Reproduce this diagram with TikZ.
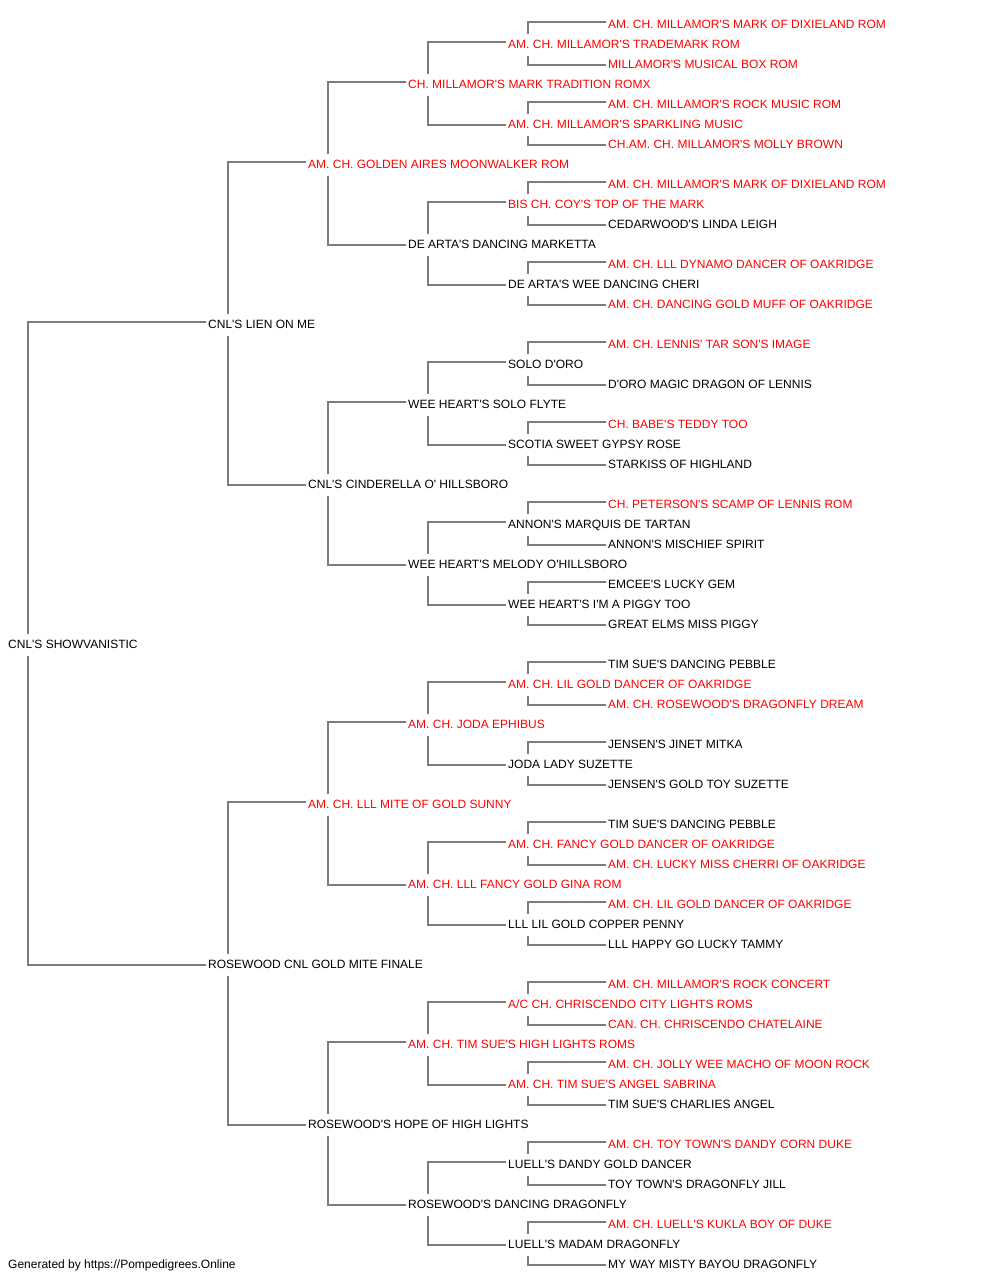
\documentclass[tikz,border=0pt]{standalone}
\usepackage{fontspec}
\setmainfont{Liberation Sans}[Ligatures=TeXOff]
\usetikzlibrary{backgrounds}
\definecolor{linecol}{RGB}{125,125,125}
\definecolor{redtxt}{RGB}{255,0,0}
\tikzset{
  lab/.style={anchor=base west, fill=white, inner xsep=1pt, inner ysep=3.5pt,
    text height=10.5pt, text depth=4.5pt, font=\fontsize{12}{14}\selectfont, text=black},
  rd/.style={lab, text=redtxt},
  bk/.style={lab},
  conn/.style={draw=linecol, line width=1.7pt},
  foot/.style={anchor=base west, inner sep=0pt, font=\fontsize{12}{14}\selectfont, text=black}
}
\begin{document}
\begin{tikzpicture}[x=1pt,y=-1pt]
\useasboundingbox (0,0) rectangle (1000,1280);
% generation 1
\node[bk] (g1-0) at (7,648) {CNL'S SHOWVANISTIC};
% generation 2
\node[bk] (g2-0) at (207,328) {CNL'S LIEN ON ME};
\node[bk] (g2-1) at (207,968) {ROSEWOOD CNL GOLD MITE FINALE};
% generation 3
\node[rd] (g3-0) at (307,168) {AM. CH. GOLDEN AIRES MOONWALKER ROM};
\node[bk] (g3-1) at (307,488) {CNL'S CINDERELLA O' HILLSBORO};
\node[rd] (g3-2) at (307,808) {AM. CH. LLL MITE OF GOLD SUNNY};
\node[bk] (g3-3) at (307,1128) {ROSEWOOD'S HOPE OF HIGH LIGHTS};
% generation 4
\node[rd] (g4-0) at (407,88) {CH. MILLAMOR'S MARK TRADITION ROMX};
\node[bk] (g4-1) at (407,248) {DE ARTA'S DANCING MARKETTA};
\node[bk] (g4-2) at (407,408) {WEE HEART'S SOLO FLYTE};
\node[bk] (g4-3) at (407,568) {WEE HEART'S MELODY O'HILLSBORO};
\node[rd] (g4-4) at (407,728) {AM. CH. JODA EPHIBUS};
\node[rd] (g4-5) at (407,888) {AM. CH. LLL FANCY GOLD GINA ROM};
\node[rd] (g4-6) at (407,1048) {AM. CH. TIM SUE'S HIGH LIGHTS ROMS};
\node[bk] (g4-7) at (407,1208) {ROSEWOOD'S DANCING DRAGONFLY};
% generation 5
\node[rd] (g5-0) at (507,48) {AM. CH. MILLAMOR'S TRADEMARK ROM};
\node[rd] (g5-1) at (507,128) {AM. CH. MILLAMOR'S SPARKLING MUSIC};
\node[rd] (g5-2) at (507,208) {BIS CH. COY'S TOP OF THE MARK};
\node[bk] (g5-3) at (507,288) {DE ARTA'S WEE DANCING CHERI};
\node[bk] (g5-4) at (507,368) {SOLO D'ORO};
\node[bk] (g5-5) at (507,448) {SCOTIA SWEET GYPSY ROSE};
\node[bk] (g5-6) at (507,528) {ANNON'S MARQUIS DE TARTAN};
\node[bk] (g5-7) at (507,608) {WEE HEART'S I'M A PIGGY TOO};
\node[rd] (g5-8) at (507,688) {AM. CH. LIL GOLD DANCER OF OAKRIDGE};
\node[bk] (g5-9) at (507,768) {JODA LADY SUZETTE};
\node[rd] (g5-10) at (507,848) {AM. CH. FANCY GOLD DANCER OF OAKRIDGE};
\node[bk] (g5-11) at (507,928) {LLL LIL GOLD COPPER PENNY};
\node[rd] (g5-12) at (507,1008) {A/C CH. CHRISCENDO CITY LIGHTS ROMS};
\node[rd] (g5-13) at (507,1088) {AM. CH. TIM SUE'S ANGEL SABRINA};
\node[bk] (g5-14) at (507,1168) {LUELL'S DANDY GOLD DANCER};
\node[bk] (g5-15) at (507,1248) {LUELL'S MADAM DRAGONFLY};
% generation 6
\node[rd] (g6-0) at (607,28) {AM. CH. MILLAMOR'S MARK OF DIXIELAND ROM};
\node[rd] (g6-1) at (607,68) {MILLAMOR'S MUSICAL BOX ROM};
\node[rd] (g6-2) at (607,108) {AM. CH. MILLAMOR'S ROCK MUSIC ROM};
\node[rd] (g6-3) at (607,148) {CH.AM. CH. MILLAMOR'S MOLLY BROWN};
\node[rd] (g6-4) at (607,188) {AM. CH. MILLAMOR'S MARK OF DIXIELAND ROM};
\node[bk] (g6-5) at (607,228) {CEDARWOOD'S LINDA LEIGH};
\node[rd] (g6-6) at (607,268) {AM. CH. LLL DYNAMO DANCER OF OAKRIDGE};
\node[rd] (g6-7) at (607,308) {AM. CH. DANCING GOLD MUFF OF OAKRIDGE};
\node[rd] (g6-8) at (607,348) {AM. CH. LENNIS' TAR SON'S IMAGE};
\node[bk] (g6-9) at (607,388) {D'ORO MAGIC DRAGON OF LENNIS};
\node[rd] (g6-10) at (607,428) {CH. BABE'S TEDDY TOO};
\node[bk] (g6-11) at (607,468) {STARKISS OF HIGHLAND};
\node[rd] (g6-12) at (607,508) {CH. PETERSON'S SCAMP OF LENNIS ROM};
\node[bk] (g6-13) at (607,548) {ANNON'S MISCHIEF SPIRIT};
\node[bk] (g6-14) at (607,588) {EMCEE'S LUCKY GEM};
\node[bk] (g6-15) at (607,628) {GREAT ELMS MISS PIGGY};
\node[bk] (g6-16) at (607,668) {TIM SUE'S DANCING PEBBLE};
\node[rd] (g6-17) at (607,708) {AM. CH. ROSEWOOD'S DRAGONFLY DREAM};
\node[bk] (g6-18) at (607,748) {JENSEN'S JINET MITKA};
\node[bk] (g6-19) at (607,788) {JENSEN'S GOLD TOY SUZETTE};
\node[bk] (g6-20) at (607,828) {TIM SUE'S DANCING PEBBLE};
\node[rd] (g6-21) at (607,868) {AM. CH. LUCKY MISS CHERRI OF OAKRIDGE};
\node[rd] (g6-22) at (607,908) {AM. CH. LIL GOLD DANCER OF OAKRIDGE};
\node[bk] (g6-23) at (607,948) {LLL HAPPY GO LUCKY TAMMY};
\node[rd] (g6-24) at (607,988) {AM. CH. MILLAMOR'S ROCK CONCERT};
\node[rd] (g6-25) at (607,1028) {CAN. CH. CHRISCENDO CHATELAINE};
\node[rd] (g6-26) at (607,1068) {AM. CH. JOLLY WEE MACHO OF MOON ROCK};
\node[bk] (g6-27) at (607,1108) {TIM SUE'S CHARLIES ANGEL};
\node[rd] (g6-28) at (607,1148) {AM. CH. TOY TOWN'S DANDY CORN DUKE};
\node[bk] (g6-29) at (607,1188) {TOY TOWN'S DRAGONFLY JILL};
\node[rd] (g6-30) at (607,1228) {AM. CH. LUELL'S KUKLA BOY OF DUKE};
\node[bk] (g6-31) at (607,1268) {MY WAY MISTY BAYOU DRAGONFLY};
% footer
\node[foot] (footer) at (8,1268) {Generated by https://Pompedigrees.Online};
% connectors
\begin{pgfonlayer}{background}
\fill[white] (0,0) rectangle (1000,1280);
\foreach \g/\p in {2/1,3/2,4/3,5/4,6/5}{
  \pgfmathtruncatemacro{\n}{2^(\g-1)-1}
  \foreach \i in {0,...,\n}{
    \pgfmathtruncatemacro{\j}{div(\i,2)}
    \pgfmathtruncatemacro{\s}{mod(\i,2)==0 ? 6 : 3}
    \draw[conn] ([xshift=21pt,yshift=5pt]g\p-\j.base west) |- ([xshift=-1pt,yshift=\s pt]g\g-\i.base west);
  }
}
\end{pgfonlayer}
\end{tikzpicture}
\end{document}
